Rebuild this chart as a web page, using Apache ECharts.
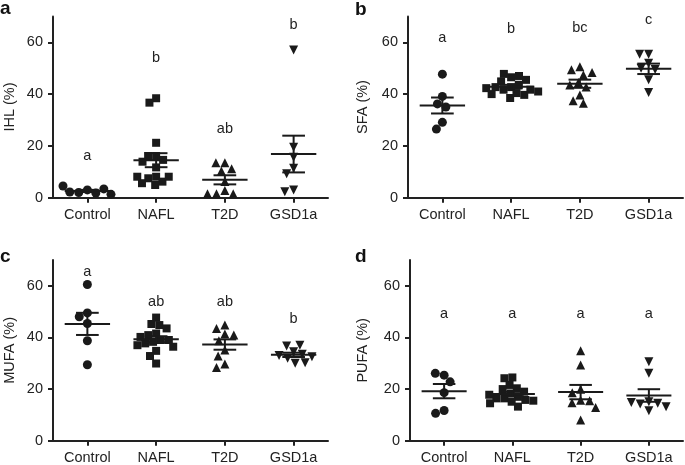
<!DOCTYPE html>
<html>
<head>
<meta charset="utf-8">
<script src="https://cdn.jsdelivr.net/npm/echarts@6/dist/echarts.min.js"></script>
<style>html,body{margin:0;padding:0;background:#fff}#c{width:685px;height:465px}</style>
</head>
<body>
<div id="c"></div>
<script>
const categories = ['Control', 'NAFL', 'T2D', 'GSD1a'];
const tickValues = [0, 20, 40, 60];

// a: IHL (%)
const ihlControl = [3.0, 2.0, 1.8, 3.4, 2.2, 4.5, 1.3];
const ihlNAFL = [38.4, 36.7, 21.2, 16.1, 16.1, 14.6, 13.9, 11.7, 8.1, 7.5, 6.2, 8.1, 5.6, 8.1, 4.9];
const ihlT2D = [13.5, 13.5, 11.2, 10.3, 6.3, 2.8, 1.5, 1.5, 1.5];
const ihlGSD1a = [57.0, 19.5, 15.6, 11.4, 9.2, 3.0, 2.3];
const ihlLetters = ['a', 'b', 'ab', 'b'];
const ihlLetterY = [16, 53.8, 26.5, 66.7];

// b: SFA (%)
const sfaControl = [47.7, 39.1, 36.2, 35.0, 29.1, 26.5];
const sfaNAFL = [46.5, 47.8, 47.0, 44.9, 45.5, 42.7, 41.7, 43.6, 42.7, 40.4, 39.7, 41.7, 40.0, 38.5, 42.3, 41.0];
const sfaT2D = [50.6, 49.4, 47.4, 48.3, 44.5, 42.7, 43.5, 39.7, 37.4, 36.5];
const sfaGSD1a = [55.4, 55.4, 51.9, 50.0, 49.5, 45.5, 40.6];
const sfaLetters = ['a', 'b', 'bc', 'c'];
const sfaLetterY = [61.5, 65, 65.4, 68.8];

// c: MUFA (%)
const mufaControl = [60.5, 49.5, 48.0, 45.4, 38.7, 29.4];
const mufaNAFL = [47.7, 45.2, 44.8, 43.5, 41.5, 40.9, 39.0, 39.0, 38.3, 37.7, 37.0, 36.4, 34.8, 32.8, 29.9, 40.2];
const mufaT2D = [44.8, 43.5, 41.3, 40.9, 38.7, 35.1, 32.8, 29.7, 28.4];
const mufaGSD1a = [34.5, 31.9, 33.5, 36.7, 37.0, 30.0, 30.2, 33.0, 32.5];
const mufaLetters = ['a', 'ab', 'ab', 'b'];
const mufaLetterY = [65.4, 53.8, 53.8, 47];

// d: PUFA (%)
const pufaControl = [25.4, 26.1, 22.8, 18.6, 11.7, 10.6];
const pufaNAFL = [24.5, 24.2, 21.6, 20.3, 20.0, 19.0, 18.3, 17.0, 16.4, 16.4, 15.1, 15.8, 13.2, 15.5, 17.8, 14.5];
const pufaT2D = [34.8, 29.3, 19.9, 18.6, 15.7, 15.5, 14.7, 12.9, 8.0];
const pufaGSD1a = [30.6, 26.1, 15.1, 14.2, 14.5, 13.2, 11.6, 14.8];
const pufaLetters = ['a', 'a', 'a', 'a'];
const pufaLetterY = [48.9, 48.9, 48.9, 48.9];

const FONT = '"Liberation Sans", Arial, Helvetica, sans-serif';
const INK = '#1a1a1a';
const TXT = '#222';

const panels = [
  { tag: 'a', name: 'IHL (%)', groups: [ihlControl, ihlNAFL, ihlT2D, ihlGSD1a], letters: ihlLetters, letterY: ihlLetterY,
    grid: { left: 53, top: 16.4, width: 275, height: 181.3 }, tagPos: [0, 8.4], nameGap: 36 },
  { tag: 'b', name: 'SFA (%)', groups: [sfaControl, sfaNAFL, sfaT2D, sfaGSD1a], letters: sfaLetters, letterY: sfaLetterY,
    grid: { left: 408, top: 16.4, width: 275, height: 181.3 }, tagPos: [355, 10], nameGap: 38 },
  { tag: 'c', name: 'MUFA (%)', groups: [mufaControl, mufaNAFL, mufaT2D, mufaGSD1a], letters: mufaLetters, letterY: mufaLetterY,
    grid: { left: 53, top: 260, width: 275, height: 180.7 }, tagPos: [0, 256.4], nameGap: 36 },
  { tag: 'd', name: 'PUFA (%)', groups: [pufaControl, pufaNAFL, pufaT2D, pufaGSD1a], letters: pufaLetters, letterY: pufaLetterY,
    grid: { left: 410, top: 260, width: 273, height: 180.7 }, tagPos: [355, 256.4], nameGap: 40 }
];

const symbols = ['circle', 'rect', 'triangle', 'triangle'];
const symbolRotates = [0, 0, 0, 180];
const symbolSizes = [9, 8, 9, 9];

function mean(a) { return a.reduce((s, v) => s + v, 0) / a.length; }
function sem(a) {
  const m = mean(a);
  const sd = Math.sqrt(a.reduce((s, v) => s + (v - m) * (v - m), 0) / (a.length - 1));
  return sd / Math.sqrt(a.length);
}

const grids = [], xAxes = [], yAxes = [], series = [], graphics = [];

panels.forEach((p, pi) => {
  grids.push(Object.assign({ outerBoundsMode: 'none', containLabel: false }, p.grid));
  xAxes.push({
    type: 'category', gridIndex: pi, data: categories, boundaryGap: true,
    jitter: 56, jitterOverlap: false, jitterMargin: 0,
    axisLine: { show: true, lineStyle: { color: TXT, width: 2 } },
    axisTick: { show: true, alignWithLabel: true, length: 5, lineStyle: { color: TXT, width: 2 } },
    axisLabel: { color: TXT, fontSize: 14.5, fontFamily: FONT, margin: 10 },
    splitLine: { show: false }
  });
  yAxes.push({
    type: 'value', gridIndex: pi, min: 0, max: 70, interval: 10,
    name: p.name, nameLocation: 'middle', nameGap: p.nameGap, nameRotate: 90,
    nameTextStyle: { color: TXT, fontSize: 14.5, fontFamily: FONT },
    axisLine: { show: true, lineStyle: { color: TXT, width: 2 } },
    axisTick: { show: true, length: 5, lineStyle: { color: TXT, width: 2 }, customValues: tickValues },
    axisLabel: { color: TXT, fontSize: 14.5, fontFamily: FONT, margin: 10, customValues: tickValues },
    splitLine: { show: false }
  });
  p.groups.forEach((vals, g) => {
    series.push({
      type: 'scatter', xAxisIndex: pi, yAxisIndex: pi,
      symbol: symbols[g], symbolRotate: symbolRotates[g], symbolSize: symbolSizes[g],
      itemStyle: { color: INK, opacity: 1 },
      data: vals.map(v => [g, v]),
      silent: true, animation: false, z: 2
    });
  });
  series.push({
    type: 'custom', xAxisIndex: pi, yAxisIndex: pi, z: 3, silent: true, animation: false,
    data: p.groups.map((vals, g) => [g, mean(vals), sem(vals)]),
    renderItem: function (params, api) {
      const x = api.value(0), m = api.value(1), s = api.value(2);
      const c = api.coord([x, m]);
      const top = api.coord([x, m + s]);
      const bot = api.coord([x, m - s]);
      const bw = api.size([1, 0])[0];
      const hw = bw * 0.33, cw = bw * 0.165;
      const st = { stroke: INK, lineWidth: 2, fill: null };
      return {
        type: 'group', children: [
          { type: 'line', shape: { x1: c[0] - hw, y1: c[1], x2: c[0] + hw, y2: c[1] }, style: st },
          { type: 'line', shape: { x1: c[0] - cw, y1: top[1], x2: c[0] + cw, y2: top[1] }, style: st },
          { type: 'line', shape: { x1: c[0] - cw, y1: bot[1], x2: c[0] + cw, y2: bot[1] }, style: st },
          { type: 'line', shape: { x1: c[0], y1: top[1], x2: c[0], y2: bot[1] }, style: st }
        ]
      };
    }
  });
  series.push({
    type: 'custom', xAxisIndex: pi, yAxisIndex: pi, z: 3, silent: true, animation: false,
    data: p.letters.map((t, g) => [g, p.letterY[g], t]),
    renderItem: function (params, api) {
      const pt = api.coord([api.value(0), api.value(1)]);
      return {
        type: 'text', x: pt[0], y: pt[1],
        style: { text: p.letters[params.dataIndex], fontSize: 14.5, fontFamily: FONT, fill: TXT, align: 'center', verticalAlign: 'middle' }
      };
    }
  });
  graphics.push({
    type: 'text', x: p.tagPos[0], y: p.tagPos[1],
    style: { text: p.tag, fontSize: 19, fontWeight: 'bold', fontFamily: FONT, fill: '#111', align: 'left', verticalAlign: 'middle' }
  });
});

const chart = echarts.init(document.getElementById('c'), null, { renderer: 'canvas' });
chart.setOption({
  backgroundColor: '#fff',
  animation: false,
  grid: grids, xAxis: xAxes, yAxis: yAxes, series: series, graphic: graphics
});
</script>
</body>
</html>
